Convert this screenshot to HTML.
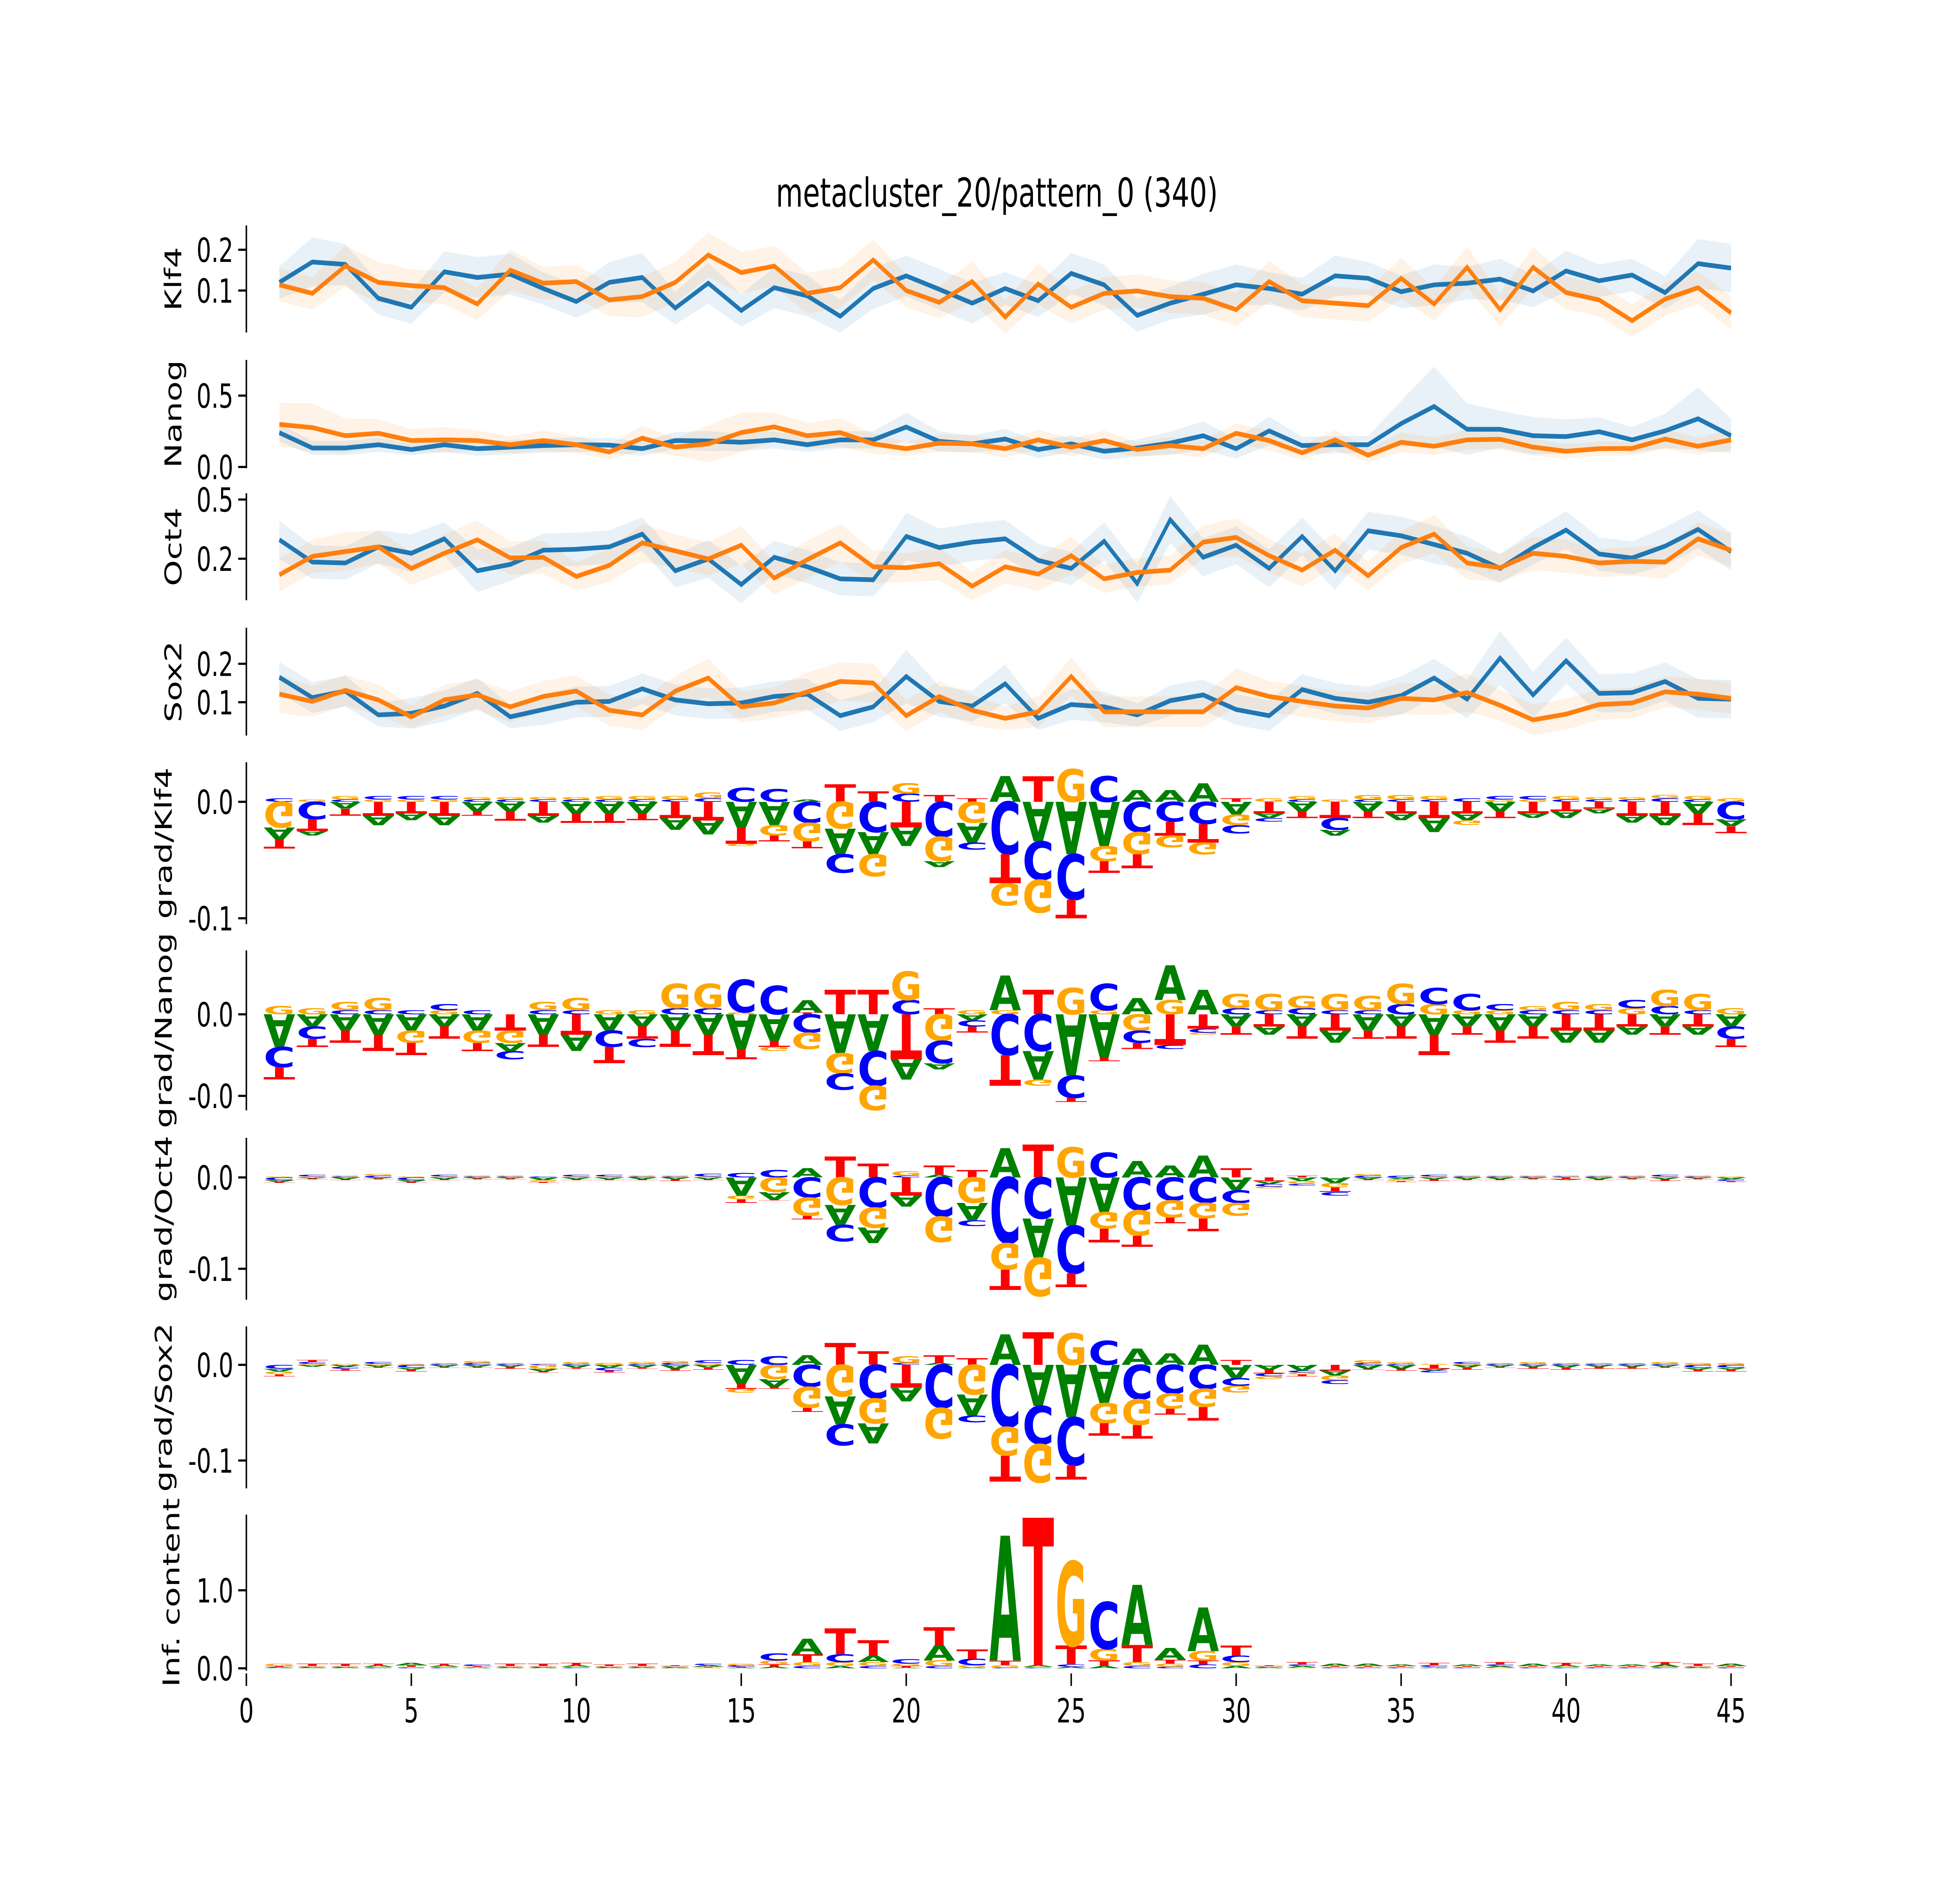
<!DOCTYPE html>
<html><head><meta charset="utf-8"><style>
html,body{margin:0;padding:0;background:#fff;width:100%;height:100%;overflow:hidden;}
svg{display:block;font-family:"DejaVu Sans","Liberation Sans",sans-serif;overflow:hidden;width:100vw;height:100vh;}
</style></head><body>
<svg id="fig" xmlns="http://www.w3.org/2000/svg" viewBox="0 0 7200 4800" preserveAspectRatio="none">
<rect width="7200" height="4800" fill="#fff"/>
<text x="3662" y="527" font-size="102" text-anchor="middle">metacluster_20/pattern_0 (340)</text>
<g id="root"></g>
</svg>
<script>
// ---------- data ----------
const positions = Array.from({length:45},(_, i)=>i+1);
const xTicks = [0,5,10,15,20,25,30,35,40,45];

const klf4Blue = [0.12,0.17,0.164,0.081,0.059,0.146,0.132,0.14,0.105,0.073,0.12,0.132,0.057,0.118,0.051,0.107,0.087,0.037,0.105,0.136,0.103,0.069,0.105,0.075,0.142,0.114,0.039,0.069,0.091,0.114,0.105,0.091,0.136,0.13,0.097,0.114,0.118,0.128,0.099,0.148,0.124,0.138,0.095,0.166,0.155];
const klf4Orange = [0.114,0.093,0.16,0.12,0.112,0.107,0.067,0.15,0.118,0.122,0.077,0.085,0.12,0.187,0.144,0.16,0.093,0.107,0.175,0.1,0.071,0.122,0.035,0.116,0.059,0.093,0.099,0.085,0.081,0.053,0.122,0.075,0.069,0.063,0.13,0.067,0.157,0.053,0.157,0.095,0.077,0.026,0.079,0.107,0.045];
const klf4BlueErr = [0.04,0.06,0.05,0.04,0.04,0.05,0.05,0.05,0.04,0.04,0.05,0.06,0.04,0.05,0.04,0.05,0.05,0.04,0.05,0.05,0.05,0.05,0.04,0.04,0.05,0.05,0.04,0.04,0.05,0.05,0.04,0.04,0.05,0.04,0.04,0.05,0.04,0.05,0.04,0.05,0.04,0.04,0.04,0.06,0.06];
const klf4OrangeErr = [0.04,0.04,0.05,0.05,0.04,0.04,0.04,0.05,0.04,0.04,0.04,0.05,0.05,0.055,0.05,0.05,0.05,0.05,0.05,0.04,0.04,0.05,0.04,0.05,0.04,0.04,0.04,0.04,0.04,0.04,0.05,0.04,0.04,0.04,0.05,0.04,0.05,0.04,0.05,0.04,0.04,0.04,0.04,0.04,0.04];

const nanogBlue = [0.24,0.133,0.133,0.156,0.122,0.156,0.128,0.139,0.15,0.156,0.153,0.128,0.185,0.182,0.173,0.19,0.156,0.19,0.19,0.28,0.179,0.162,0.196,0.122,0.162,0.11,0.133,0.167,0.219,0.128,0.253,0.15,0.156,0.156,0.304,0.424,0.264,0.264,0.219,0.213,0.247,0.19,0.253,0.338,0.219];
const nanogOrange = [0.298,0.276,0.219,0.236,0.185,0.19,0.185,0.156,0.185,0.156,0.105,0.202,0.139,0.162,0.241,0.281,0.219,0.241,0.162,0.128,0.167,0.162,0.128,0.19,0.139,0.185,0.122,0.15,0.128,0.236,0.185,0.099,0.19,0.082,0.173,0.145,0.19,0.194,0.139,0.11,0.128,0.13,0.196,0.145,0.19];
const nanogBlueErr = [0.06,0.05,0.05,0.05,0.04,0.05,0.05,0.05,0.05,0.05,0.05,0.05,0.06,0.07,0.06,0.06,0.05,0.06,0.06,0.1,0.07,0.06,0.07,0.06,0.06,0.06,0.06,0.08,0.1,0.07,0.1,0.06,0.06,0.06,0.16,0.28,0.18,0.13,0.13,0.12,0.1,0.09,0.12,0.22,0.12];
const nanogOrangeErr = [0.15,0.17,0.12,0.1,0.08,0.09,0.07,0.06,0.07,0.06,0.05,0.09,0.06,0.13,0.14,0.1,0.09,0.1,0.07,0.05,0.06,0.06,0.06,0.07,0.06,0.07,0.05,0.06,0.06,0.07,0.07,0.05,0.07,0.05,0.07,0.06,0.07,0.07,0.06,0.05,0.05,0.05,0.07,0.06,0.07];

const oct4Blue = [0.33,0.236,0.232,0.3,0.273,0.334,0.199,0.226,0.286,0.29,0.3,0.354,0.199,0.249,0.141,0.256,0.216,0.165,0.161,0.344,0.297,0.32,0.334,0.243,0.209,0.324,0.145,0.415,0.256,0.307,0.209,0.344,0.199,0.368,0.347,0.31,0.273,0.209,0.297,0.371,0.27,0.253,0.303,0.374,0.28];
const oct4Orange = [0.182,0.26,0.28,0.3,0.209,0.273,0.33,0.253,0.256,0.175,0.222,0.317,0.283,0.249,0.307,0.168,0.246,0.317,0.216,0.212,0.229,0.134,0.216,0.185,0.263,0.165,0.192,0.202,0.32,0.34,0.263,0.202,0.286,0.178,0.297,0.354,0.232,0.212,0.273,0.26,0.232,0.239,0.236,0.334,0.286];
const oct4BlueErr = [0.08,0.07,0.07,0.07,0.08,0.07,0.09,0.07,0.07,0.07,0.07,0.07,0.07,0.08,0.08,0.07,0.07,0.07,0.07,0.1,0.08,0.08,0.08,0.07,0.07,0.08,0.08,0.1,0.08,0.08,0.08,0.08,0.08,0.08,0.08,0.08,0.07,0.06,0.07,0.08,0.07,0.07,0.08,0.08,0.08];
const oct4OrangeErr = [0.07,0.07,0.08,0.07,0.07,0.08,0.08,0.07,0.07,0.06,0.07,0.08,0.07,0.07,0.08,0.07,0.08,0.08,0.07,0.06,0.07,0.06,0.07,0.07,0.08,0.06,0.06,0.06,0.07,0.08,0.07,0.07,0.07,0.06,0.07,0.08,0.07,0.06,0.07,0.07,0.06,0.06,0.07,0.07,0.07];

const sox2Blue = [0.165,0.112,0.129,0.067,0.071,0.09,0.123,0.062,0.081,0.1,0.102,0.135,0.106,0.096,0.098,0.115,0.121,0.065,0.088,0.167,0.102,0.09,0.148,0.058,0.094,0.088,0.067,0.104,0.119,0.081,0.065,0.133,0.11,0.1,0.117,0.163,0.108,0.215,0.119,0.208,0.123,0.125,0.154,0.11,0.108];
const sox2Orange = [0.121,0.102,0.131,0.106,0.062,0.106,0.119,0.088,0.115,0.129,0.079,0.067,0.129,0.163,0.088,0.098,0.127,0.154,0.15,0.065,0.115,0.079,0.058,0.075,0.167,0.075,0.075,0.075,0.075,0.138,0.115,0.102,0.09,0.085,0.11,0.106,0.125,0.092,0.054,0.069,0.094,0.098,0.127,0.121,0.11];
const sox2BlueErr = [0.04,0.04,0.04,0.03,0.04,0.04,0.04,0.03,0.04,0.04,0.04,0.04,0.04,0.04,0.04,0.04,0.04,0.04,0.04,0.07,0.04,0.04,0.05,0.03,0.04,0.04,0.03,0.04,0.04,0.04,0.04,0.04,0.04,0.04,0.05,0.05,0.05,0.07,0.06,0.06,0.05,0.05,0.05,0.05,0.05];
const sox2OrangeErr = [0.05,0.04,0.04,0.04,0.03,0.04,0.04,0.04,0.04,0.04,0.04,0.04,0.04,0.05,0.04,0.04,0.05,0.05,0.05,0.04,0.04,0.04,0.03,0.04,0.05,0.04,0.04,0.04,0.04,0.05,0.04,0.04,0.04,0.04,0.04,0.04,0.05,0.04,0.04,0.04,0.04,0.04,0.04,0.04,0.04];

// logo contributions (units: 0.001 for grad panels, 0.01 for info content)
const gKlf4A = [-10,-4,-6,-8,-6,-8,-8,-8,-6,-10,-10,-10,-10,-12,-22,-20,2,-22,-19,-16,-5,-17,22,-34,-45,-38,10,10,16,-11,-4,-8,-5,-8,-6,-12,-6,-8,-4,-6,-4,-6,-8,-10,-6];
const gKlf4C = [3,-15,2,3,3,3,2,2,2,2,2,2,2,3,12,11,-18,-16,-26,7,-30,-6,-45,-33,-39,22,-26,-17,-19,-7,-3,2,-10,2,2,2,3,3,3,2,2,2,3,2,-15];
const gKlf4G = [-22,2,3,2,2,2,2,2,2,2,3,3,3,5,-2,-9,-16,-23,-19,9,-21,-18,-19,-28,28,-13,-19,-10,-10,-9,3,3,2,4,4,3,-4,2,2,3,2,2,3,3,3];
const gKlf4T = [-8,-10,-6,-12,-10,-12,-4,-8,-12,-8,-8,-6,-14,-16,-14,-5,-6,15,9,-22,6,3,-25,22,-16,-10,-12,-12,-16,3,-10,-6,-14,-6,-10,-14,-10,-6,-10,-8,-6,-12,-12,-10,-6];

const gNanogA = [-16,-6,-8,-10,-8,-6,-8,-4,-10,-8,-8,-6,-8,-10,-17,-13,6,-19,-18,-10,-3,-3,17,-14,-30,-21,8,17,12,-6,-4,-6,-6,-8,-6,-10,-6,-8,-6,-6,-6,-4,-6,-4,-6];
const gNanogC = [-10,-6,2,2,2,3,2,-4,2,2,-8,-4,3,3,16,14,-9,-8,-17,7,-11,-3,-20,-18,-11,13,-6,-2,-2,3,2,3,2,2,5,8,8,3,2,2,2,4,4,2,-6];
const gNanogG = [4,3,4,6,-6,2,-6,-6,4,6,2,2,12,12,1,-2,-8,-10,-12,14,-13,2,2,-3,13,2,-8,7,-1,7,8,6,8,7,10,5,2,2,2,4,3,3,8,8,3];
const gNanogT = [-6,-4,-6,-8,-6,-6,-4,-8,-6,-10,-8,-6,-8,-10,-5,-3,1,12,12,-22,3,-3,-15,12,-2,-2,-3,-15,-7,-4,-6,-6,-8,-4,-6,-10,-4,-6,-6,-8,-8,-6,-4,-6,-4];

const gOct4A = [-2,-1,-2,-1,-2,-2,-1,-1,-3,-2,-2,-2,-2,-2,-20,-8,10,-22,-17,-12,3,-19,32,-43,-53,-38,18,13,24,-14,-3,-4,-6,-2,-2,-2,-2,-2,-1,-1,-2,-1,-2,-1,-2];
const gOct4C = [-3,2,1,2,-3,2,1,1,1,2,2,1,1,3,5,8,-22,-18,-33,2,-43,-6,-72,-45,-52,27,-36,-25,-28,-14,-3,-2,-4,2,2,2,1,1,1,1,1,1,2,1,-2];
const gOct4G = [1,1,1,2,1,1,1,1,-2,1,1,1,1,1,-4,-16,-20,-30,-22,5,-28,-28,-29,-42,33,-18,-28,-19,-17,-14,-2,-3,-5,2,-2,1,1,1,1,1,1,1,1,1,1];
const gOct4T = [-1,-1,-1,-1,-1,-1,-1,-1,-1,-1,-1,-1,-2,-1,-4,-1,-4,23,15,-20,10,8,-22,36,-15,-15,-12,-6,-14,10,-4,2,-5,-1,-1,-2,-1,-1,-1,-2,-1,-1,-2,-1,-1];

const gSox2A = [-3,-2,-2,-2,-2,-2,-2,-2,-3,-3,-3,-3,-4,-3,-20,-8,10,-29,-21,-14,2,-22,32,-43,-55,-40,17,12,21,-14,-5,-6,-5,-4,-4,-2,-3,-2,-2,-3,-2,-2,-2,-2,-2];
const gSox2C = [-4,2,-2,2,-3,1,2,1,1,1,-3,1,2,3,5,9,-23,-22,-35,2,-45,-7,-65,-40,-50,25,-36,-30,-25,-8,-3,-2,-4,2,1,-2,2,1,1,1,1,1,1,-3,-3];
const gSox2G = [-3,1,1,1,1,1,2,1,-4,2,2,2,2,2,-4,-15,-22,-33,-26,7,-32,-31,-30,-40,33,-21,-27,-16,-19,-7,-3,-2,-5,3,2,1,1,1,2,1,1,1,2,2,2];
const gSox2T = [-2,2,-2,-1,-2,-1,-1,-2,-1,-1,-2,-1,-2,-2,-5,-2,-4,23,14,-24,8,7,-27,34,-15,-13,-14,-6,-14,5,-4,-2,-6,-1,-2,-4,-2,-1,-2,-2,-2,-2,-1,-2,-2];

const icA = [1,1,1,2,3,2,1,1,1,2,1,1,1,2,1,2,20,3,8,1,20,1,160,2,2,3,77,15,56,3,1,2,3,3,2,1,2,2,3,2,2,2,3,1,3];
const icC = [1,1,1,1,1,1,2,1,1,1,1,1,1,2,2,9,3,10,3,6,3,8,1,1,3,60,3,2,5,8,1,2,1,1,1,2,1,2,1,1,1,1,1,1,1];
const icG = [3,1,1,1,1,1,1,1,1,1,1,1,1,1,2,5,5,5,5,3,7,3,3,1,108,15,5,4,12,5,1,1,1,1,1,1,1,1,1,1,1,1,1,1,1];
const icT = [1,3,3,2,2,2,1,3,3,3,2,3,1,1,1,3,10,33,20,2,23,12,6,189,24,7,22,5,5,13,1,3,1,1,1,3,1,3,1,3,1,1,3,3,1];

// ---------- rendering ----------
const NS = "http://www.w3.org/2000/svg";
const root = document.getElementById('root');
const X0 = 905, XU = 121.2;
function xs(v){ return X0 + v*XU; }
function mk(tag, attrs, parent){
  const e = document.createElementNS(NS, tag);
  for (const k in attrs) e.setAttribute(k, attrs[k]);
  (parent||root).appendChild(e);
  return e;
}
function makeScale(v0, p0, pxPerUnit){ return v => p0 - (v - v0)*pxPerUnit; }

function drawAxis(p){
  const g = mk('g', {});
  
  
  const sp = mk('line', {x1:X0, x2:X0, y1:p.top, y2:p.bottom, stroke:'#000', 'stroke-width':5.5}, g);
  
  
  p.ticks.forEach((t, i) => {
    const y = p.y(t);
    const tl = mk('line', {x1:X0-30, x2:X0, y1:y, y2:y, stroke:'#000', 'stroke-width':5.5}, g);
    
    
    const tx = mk('text', {x:X0-48, y:y+31, 'font-size':85, 'text-anchor':'end'}, g);
    
    
    tx.textContent = p.tickLabels[i];
  });
  const cy = (p.top + p.bottom)/2;
  const lab = mk('text', {x:0, y:0, 'font-size':85, 'text-anchor':'middle', transform:`translate(${p.labelX+30},${cy}) rotate(-90)`}, g);
  
  
  lab.textContent = p.label;
}

function drawProfile(p){
  drawAxis(p);
  const series = [[p.blue, p.blueErr, '#1f77b4', 'blue'], [p.orange, p.orangeErr, '#ff7f0e', 'orange']];
  series.forEach(([vals, err, col, nm]) => {
    const up = vals.map((v,i)=> xs(positions[i]) + ',' + p.y(v+err[i]));
    const lo = vals.map((v,i)=> xs(positions[i]) + ',' + p.y(v-err[i])).reverse();
    const band = mk('polygon', {points: up.concat(lo).join(' '), fill: col, 'fill-opacity':0.1, stroke:'none'});
    
    
  });
  series.forEach(([vals, err, col, nm]) => {
    const pts = vals.map((v,i)=> xs(positions[i]) + ',' + p.y(v)).join(' ');
    const ln = mk('polyline', {points: pts, fill:'none', stroke: col, 'stroke-width':12, 'stroke-linejoin':'miter'});
    
    
  });
}

const COLORS = {A:'#008000', C:'#0000ff', G:'#ffa500', T:'#ff0000'};
const ADV = {A:77.4, C:73.4, G:82.1, T:68.2};
function letter(ch, x0, w, yA, yB, flip, g){
  const h = Math.abs(yB - yA);
  if (h < 0.8) return;
  const sx = w / ADV[ch], sy = h / 72.9;
  const base = flip ? Math.min(yA,yB) : Math.max(yA,yB);
  const t = mk('text', {x:0, y:0, 'font-size':100, 'font-weight':'bold', fill:COLORS[ch],
    transform:`translate(${x0},${base}) scale(${sx},${flip ? -sy : sy})`}, g);
  
  
  t.textContent = ch;
}
function drawLogo(p){
  drawAxis(p);
  const g = mk('g', {});
  
  
  const letters = ['A','C','G','T'];
  positions.forEach((pos, i) => {
    const vals = letters.map((L, j) => [L, p.arrs[j][i]*p.unit]);
    const pos_ = vals.filter(v=>v[1]>0).sort((a,b)=>a[1]-b[1]);
    const neg_ = vals.filter(v=>v[1]<0).sort((a,b)=>a[1]-b[1]);
    const w = XU*0.96, x0 = xs(pos) - w/2;
    let acc = 0;
    pos_.forEach(([L,v]) => { letter(L, x0, w, p.y(acc), p.y(acc+v), false, g); acc += v; });
    acc = 0;
    neg_.forEach(([L,v]) => { letter(L, x0, w, p.y(acc), p.y(acc+v), true, g); acc += v; });
  });
}

const panels = [
  {name:'klf4', kind:'profile', top:575, bottom:848, y:makeScale(0.1,741,1040), ticks:[0.1,0.2], tickLabels:['0.1','0.2'], label:'Klf4', labelX:636, blue:klf4Blue, orange:klf4Orange, blueErr:klf4BlueErr, orangeErr:klf4OrangeErr},
  {name:'nanog', kind:'profile', top:918, bottom:1194, y:makeScale(0,1191,364), ticks:[0,0.5], tickLabels:['0.0','0.5'], label:'Nanog', labelX:636, blue:nanogBlue, orange:nanogOrange, blueErr:nanogBlueErr, orangeErr:nanogOrangeErr},
  {name:'oct4', kind:'profile', top:1258, bottom:1531, y:makeScale(0.25,1425,604), ticks:[0.25,0.5], tickLabels:['0.2','0.5'], label:'Oct4', labelX:636, blue:oct4Blue, orange:oct4Orange, blueErr:oct4BlueErr, orangeErr:oct4OrangeErr},
  {name:'sox2', kind:'profile', top:1601, bottom:1876, y:makeScale(0.1,1791,980), ticks:[0.1,0.2], tickLabels:['0.1','0.2'], label:'Sox2', labelX:636, blue:sox2Blue, orange:sox2Orange, blueErr:sox2BlueErr, orangeErr:sox2OrangeErr},
  {name:'grad-klf4', kind:'logo', top:1944, bottom:2357, y:makeScale(0,2045,2970), ticks:[-0.1,0], tickLabels:['-0.1','0.0'], label:'grad/Klf4', labelX:601, unit:0.001, arrs:[gKlf4A,gKlf4C,gKlf4G,gKlf4T]},
  {name:'grad-nanog', kind:'logo', top:2424, bottom:2832, y:makeScale(0,2587,5200), ticks:[-0.04,0], tickLabels:['-0.0','0.0'], label:'grad/Nanog', labelX:601, unit:0.001, arrs:[gNanogA,gNanogC,gNanogG,gNanogT]},
  {name:'grad-oct4', kind:'logo', top:2902, bottom:3315, y:makeScale(0,3003,2330), ticks:[-0.1,0], tickLabels:['-0.1','0.0'], label:'grad/Oct4', labelX:601, unit:0.001, arrs:[gOct4A,gOct4C,gOct4G,gOct4T]},
  {name:'grad-sox2', kind:'logo', top:3383, bottom:3796, y:makeScale(0,3481,2440), ticks:[-0.1,0], tickLabels:['-0.1','0.0'], label:'grad/Sox2', labelX:601, unit:0.001, arrs:[gSox2A,gSox2C,gSox2G,gSox2T]},
  {name:'info-content', kind:'logo', top:3863, bottom:4261, y:makeScale(0,4255,199), ticks:[0,1], tickLabels:['0.0','1.0'], label:'Inf. content', labelX:629, unit:0.01, arrs:[icA,icC,icG,icT]}
];
panels.forEach(p => p.kind === 'profile' ? drawProfile(p) : drawLogo(p));

// x axis (bottom panel)
const xg = mk('g', {});


xTicks.forEach(t => {
  const x = xs(t);
  const tl = mk('line', {x1:x, x2:x, y1:4268, y2:4300, stroke:'#000', 'stroke-width':5.5}, xg);
  
  
  const tx = mk('text', {x:x, y:4393, 'font-size':85, 'text-anchor':'middle'}, xg);
  
  
  tx.textContent = String(t);
});
</script>
</body></html>
